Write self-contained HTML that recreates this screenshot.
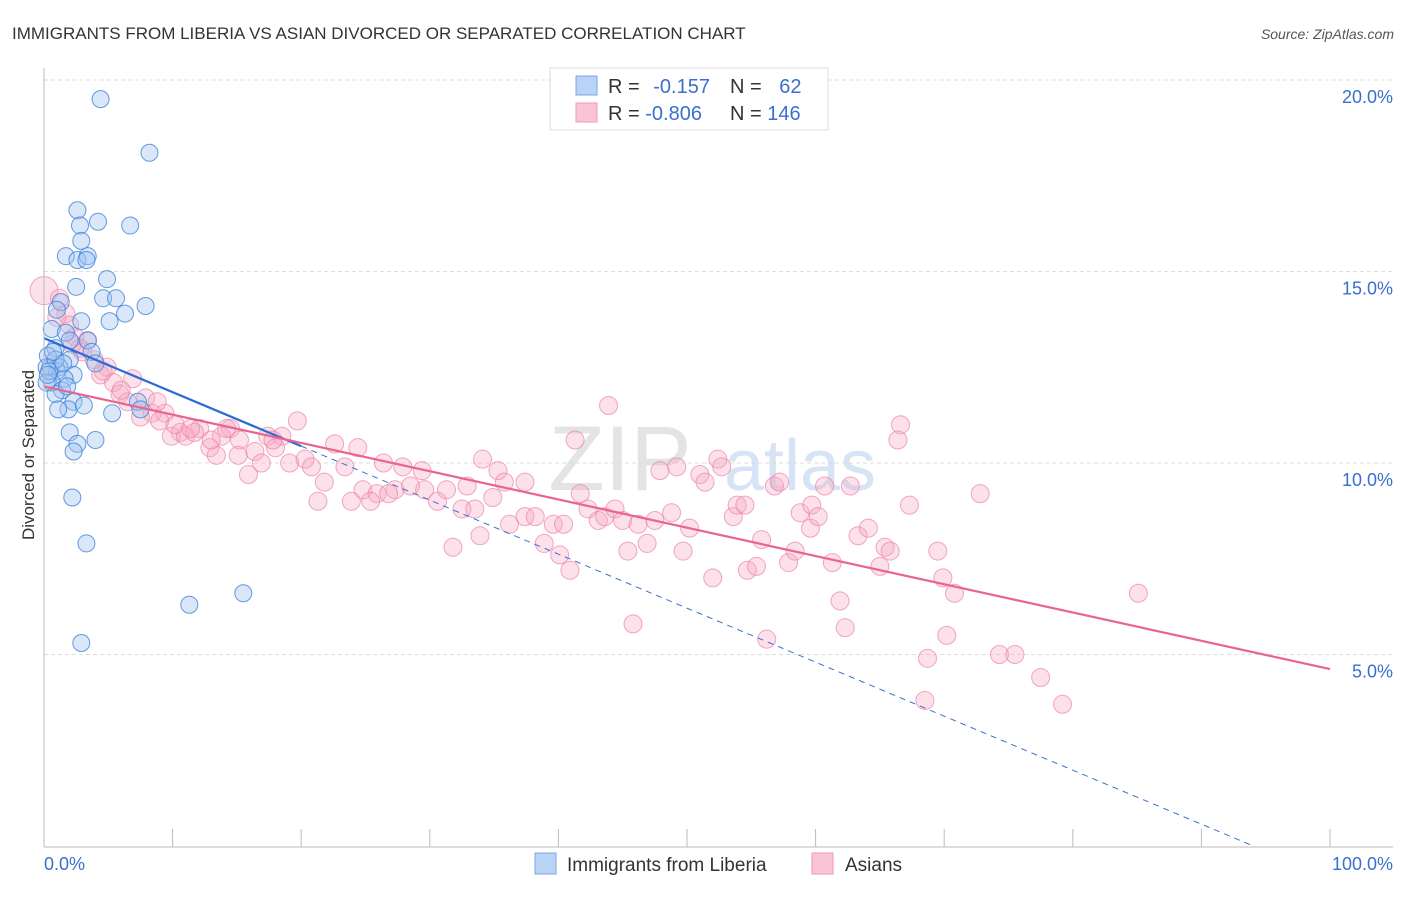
<!DOCTYPE html>
<html><head><meta charset="utf-8"><style>
body{margin:0;background:#fff;font-family:"Liberation Sans",sans-serif;}
svg text{font-family:"Liberation Sans",sans-serif;}
</style></head><body>
<svg width="1406" height="892" viewBox="0 0 1406 892" id="c">
<text x="12" y="39" font-size="17" fill="#333">IMMIGRANTS FROM LIBERIA VS ASIAN DIVORCED OR SEPARATED CORRELATION CHART</text>
<text x="1394" y="39" font-size="14" fill="#555" font-style="italic" text-anchor="end">Source: ZipAtlas.com</text>
<text x="620" y="490" font-size="92" fill="#e4e4e4" font-family="Liberation Serif" text-anchor="middle">ZIP</text>
<text x="800" y="490" font-size="72" fill="#d6e4f5" text-anchor="middle">atlas</text>
<text transform="translate(34,455) rotate(-90)" font-size="17" fill="#333" text-anchor="middle">Divorced or Separated</text>
<g id="grid"></g><g id="pts"></g><g id="lines"></g><g id="axes"></g>
<g>
<rect x="550" y="68" width="278" height="62" fill="#fff" stroke="#ddd"/>
<rect x="576" y="76" width="21" height="19" fill="#b9d3f5" stroke="#7aa7e6"/>
<rect x="576" y="103" width="21" height="19" fill="#f9c5d6" stroke="#ee99b6"/>
<text x="608" y="93" font-size="20" fill="#333">R = <tspan fill="#3a6fd0" dx="8">-0.157</tspan></text>
<text x="730" y="93" font-size="20" fill="#333">N = <tspan fill="#3a6fd0" dx="12">62</tspan></text>
<text x="608" y="120" font-size="20" fill="#333">R = <tspan fill="#3a6fd0">-0.806</tspan></text>
<text x="730" y="120" font-size="20" fill="#333">N = <tspan fill="#3a6fd0">146</tspan></text>
</g>
<rect x="535" y="853" width="21" height="21" fill="#b9d3f5" stroke="#7aa7e6"/>
<text x="567" y="871" font-size="19" fill="#333">Immigrants from Liberia</text>
<rect x="812" y="853" width="21" height="21" fill="#f9c5d6" stroke="#ee99b6"/>
<text x="845" y="871" font-size="19" fill="#333">Asians</text>
</svg>
<script>
const yTicks=[5,10,15,20];
const xTickLabels=["0.0%","100.0%"];
const blueX=[4.4,8.2,2.6,4.2,2.8,6.7,2.9,1.7,2.6,3.4,3.3,4.9,2.5,4.6,5.6,1.3,7.9,6.3,1.0,5.1,2.9,0.6,1.7,2.0,3.4,0.9,3.7,0.3,4.0,2.0,0.5,1.2,1.0,0.2,2.3,1.6,0.6,1.4,0.9,2.3,7.3,1.9,1.1,3.1,5.3,7.5,2.0,4.0,2.6,2.3,2.2,3.3,11.3,15.5,2.9,0.9,0.2,0.4,1.5,0.7,1.8,0.3];
const blueY=[19.5,18.1,16.6,16.3,16.2,16.2,15.8,15.4,15.3,15.4,15.3,14.8,14.6,14.3,14.3,14.2,14.1,13.9,14.0,13.7,13.7,13.5,13.4,13.2,13.2,13.0,12.9,12.8,12.6,12.7,12.5,12.5,12.4,12.5,12.3,12.2,12.1,11.9,11.8,11.6,11.6,11.4,11.4,11.5,11.3,11.4,10.8,10.6,10.5,10.3,9.1,7.9,6.3,6.6,5.3,12.7,12.1,12.4,12.6,12.9,12.0,12.3];
const pinkX=[0.0,1.2,1.7,2.0,2.4,3.4,2.8,3.9,4.9,4.4,5.4,6.9,5.9,7.9,6.5,8.4,9.4,7.5,9.0,10.6,12.1,14.5,19.7,9.9,11.0,11.7,13.8,15.2,17.4,18.5,12.9,13.4,15.1,16.4,18.0,22.6,24.4,19.1,20.3,20.8,16.9,15.9,23.4,26.4,27.9,29.4,21.8,21.3,24.8,25.9,27.3,28.5,23.9,25.4,26.8,29.6,30.6,31.3,32.9,34.1,35.3,35.8,37.4,34.9,32.5,33.5,31.8,33.9,36.2,37.4,38.2,39.6,40.4,38.9,40.1,40.9,41.7,42.3,43.1,43.6,44.4,45.0,43.9,41.3,45.4,46.2,46.9,47.5,48.8,47.9,49.2,45.8,49.7,50.2,51.0,51.4,52.0,52.4,52.7,53.6,53.9,54.5,54.7,55.4,55.8,56.2,56.8,57.2,57.9,58.4,58.8,59.6,59.7,60.2,60.7,61.3,61.9,62.3,62.7,63.3,64.1,65.0,65.4,65.8,66.6,66.4,67.3,68.7,69.5,69.9,70.2,70.8,68.5,72.8,74.3,75.5,77.5,79.2,85.1,1.0,2.2,3.0,4.6,6.0,8.8,10.2,11.4,13.0,14.2,17.8];
const pinkY=[14.5,14.3,13.9,13.6,13.3,13.2,13.0,12.7,12.5,12.3,12.1,12.2,11.8,11.7,11.6,11.3,11.3,11.2,11.1,10.8,10.9,10.9,11.1,10.7,10.7,10.8,10.7,10.6,10.7,10.7,10.4,10.2,10.2,10.3,10.4,10.5,10.4,10.0,10.1,9.9,10.0,9.7,9.9,10.0,9.9,9.8,9.5,9.0,9.3,9.2,9.3,9.4,9.0,9.0,9.2,9.3,9.0,9.3,9.4,10.1,9.8,9.5,9.5,9.1,8.8,8.8,7.8,8.1,8.4,8.6,8.6,8.4,8.4,7.9,7.6,7.2,9.2,8.8,8.5,8.6,8.8,8.5,11.5,10.6,7.7,8.4,7.9,8.5,8.7,9.8,9.9,5.8,7.7,8.3,9.7,9.5,7.0,10.1,9.9,8.6,8.9,8.9,7.2,7.3,8.0,5.4,9.4,9.5,7.4,7.7,8.7,8.3,8.9,8.6,9.4,7.4,6.4,5.7,9.4,8.1,8.3,7.3,7.8,7.7,11.0,10.6,8.9,4.9,7.7,7.0,5.5,6.6,3.8,9.2,5.0,5.0,4.4,3.7,6.6,13.8,13.1,12.9,12.4,11.9,11.6,11.0,10.9,10.6,10.9,10.6];
const blueFit=[13.26,-0.141];
const pinkFit=[12.0,-0.0738];
const X0=44,X1=1330,YT=80,YS=38.3;
const sx=v=>X0+v*(X1-X0)/100, sy=v=>YT+(20-v)*YS;
const NS="http://www.w3.org/2000/svg";
function mk(tag,attrs,parent){const e=document.createElementNS(NS,tag);for(const k in attrs)e.setAttribute(k,attrs[k]);parent.appendChild(e);return e;}
const grid=document.getElementById('grid'),pts=document.getElementById('pts'),lines=document.getElementById('lines'),axes=document.getElementById('axes');
yTicks.forEach(t=>{
 const l=mk('line',{x1:X0,x2:1393,y1:sy(t),y2:sy(t),stroke:'#ddd','stroke-dasharray':'4,3'},grid);
 
 
 const tx=mk('text',{x:1393,y:sy(t)+23,'font-size':18,fill:'#3a6fd0','text-anchor':'end'},axes);
 tx.textContent=t.toFixed(1)+'%';
 
 
});
const ax=mk('line',{x1:X0,x2:1393,y1:847,y2:847,stroke:'#bbb'},axes);


const ay=mk('line',{x1:X0,x2:X0,y1:68,y2:847,stroke:'#bbb'},axes);


for(let i=1;i<=10;i++){const t=mk('line',{x1:sx(i*10),x2:sx(i*10),y1:829,y2:847,stroke:'#bbb'},axes);
 
 }
[[0,'start',X0],[100,'end',1393]].forEach((d,i)=>{const t=mk('text',{x:d[2],y:870,'font-size':18,fill:'#3a6fd0','text-anchor':d[1]},axes);t.textContent=xTickLabels[i];
 
 });
pinkX.forEach((x,i)=>{const c=mk('circle',{cx:sx(x),cy:sy(pinkY[i]),r:i==0?14:9,fill:'rgba(246,170,196,0.35)',stroke:'rgba(236,130,168,0.7)','stroke-width':1},pts);
 
 });
blueX.forEach((x,i)=>{const c=mk('circle',{cx:sx(x),cy:sy(blueY[i]),r:8.5,fill:'rgba(160,196,240,0.4)',stroke:'rgba(60,130,220,0.8)','stroke-width':1},pts);
 
 });
const bx0=-blueFit[0]/blueFit[1];
const bd=mk('line',{x1:sx(20),y1:sy(blueFit[0]+blueFit[1]*20),x2:sx(bx0),y2:sy(0),stroke:'#3a6fd0','stroke-width':1,'stroke-dasharray':'6,5'},lines);


const bl=mk('line',{x1:sx(0),y1:sy(blueFit[0]),x2:sx(20),y2:sy(blueFit[0]+blueFit[1]*20),stroke:'#2a6bd6','stroke-width':2.2},lines);


const pl=mk('line',{x1:sx(0),y1:sy(pinkFit[0]),x2:sx(100),y2:sy(pinkFit[0]+pinkFit[1]*100),stroke:'#e8658f','stroke-width':2.2},lines);


</script>
</body></html>
